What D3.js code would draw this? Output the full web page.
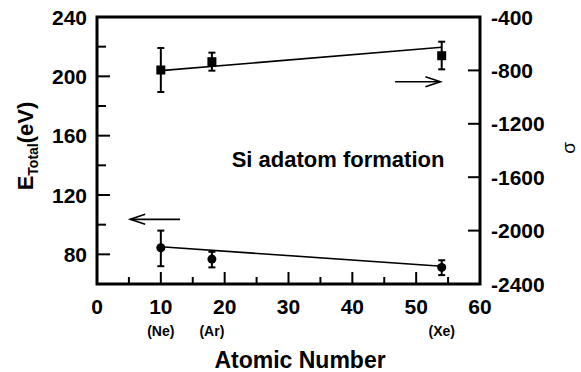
<!DOCTYPE html>
<html><head><meta charset="utf-8">
<script src="https://cdn.jsdelivr.net/npm/d3@7"></script>
<style>
html,body{margin:0;padding:0;background:#fff;}
svg{display:block;font-family:"Liberation Sans",Arial,Helvetica,sans-serif;font-weight:bold;}
</style></head>
<body><svg id="c" width="581" height="372"></svg>
<script>
// ---- data ----
const atomicNumber = [10, 18, 54];
const elementLabels = ["(Ne)", "(Ar)", "(Xe)"];
const eTotal   = [84.4, 76.8, 71.2];
const eErrLow  = [72, 71.2, 66];
const eErrHigh = [96, 81.7, 76];
const sigma     = [-797, -735, -690];
const sigErrLow = [-962, -802, -792];
const sigErrHigh= [-632, -667, -585];
const eFitX = [10, 54], eFitY = [85.1, 72];
const sigFitX = [10, 54], sigFitY = [-802, -627];
const xTicks = [0,5,10,15,20,25,30,35,40,45,50,55,60];
const xTickLabels = [0,10,20,30,40,50,60];
const leftTicks = [80,100,120,140,160,180,200,220,240];
const leftTickLabels = [80,120,160,200,240];
const rightTickLabels = [-2400,-2000,-1600,-1200,-800,-400];

// ---- layout ----
const svg = d3.select("#c");
const L = 97, R = 480, T = 17, B = 284;
const x = d3.scaleLinear().domain([0,60]).range([L,R]);
const yL = d3.scaleLinear().domain([60,240]).range([B,T]);
const yR = d3.scaleLinear().domain([-2400,-400]).range([B,T]);

// frame
svg.append("rect").attr("x",L).attr("y",T).attr("width",R-L).attr("height",B-T)
  .attr("fill","none").attr("stroke","#000").attr("stroke-width",3);

// x ticks (inward)
svg.selectAll(".xt").data(xTicks).join("line")
  .attr("x1",d=>x(d)).attr("x2",d=>x(d))
  .attr("y1",B).attr("y2",d=>B-(d%10===0?12:7))
  .attr("stroke","#000").attr("stroke-width",2);
svg.selectAll(".xl").data(xTickLabels).join("text")
  .attr("x",d=>x(d)).attr("y",314).attr("text-anchor","middle")
  .attr("font-size",21).text(d=>d);
svg.selectAll(".el").data(atomicNumber).join("text")
  .attr("x",d=>x(d)).attr("y",336).attr("text-anchor","middle")
  .attr("font-size",14).text((d,i)=>elementLabels[i]);
svg.append("text").attr("x",300).attr("y",368).attr("text-anchor","middle")
  .attr("font-size",23).text("Atomic Number");

// left ticks
svg.selectAll(".lt").data(leftTicks).join("line")
  .attr("x1",L).attr("x2",d=>L+(d%40===0?13:9))
  .attr("y1",d=>yL(d)).attr("y2",d=>yL(d))
  .attr("stroke","#000").attr("stroke-width",2);
svg.selectAll(".ll").data(leftTickLabels).join("text")
  .attr("x",87).attr("y",d=>yL(d)).attr("dy","0.36em").attr("text-anchor","end")
  .attr("font-size",21).text(d=>d);

// right ticks
svg.selectAll(".rt").data(rightTickLabels).join("line")
  .attr("x1",R).attr("x2",R-12)
  .attr("y1",d=>yR(d)).attr("y2",d=>yR(d))
  .attr("stroke","#000").attr("stroke-width",2);
svg.selectAll(".rl").data(rightTickLabels).join("text")
  .attr("x",491).attr("y",d=>yR(d)).attr("dy","0.36em").attr("text-anchor","start")
  .attr("font-size",21).text(d=>d);

// axis titles
const yt = svg.append("text").attr("transform","translate(33,146) rotate(-90)")
  .attr("text-anchor","middle").attr("font-size",22);
yt.append("tspan").text("E");
yt.append("tspan").attr("font-size",14).attr("dy",5).text("Total");
yt.append("tspan").attr("dy",-5).text("(eV)");
svg.append("text").attr("transform","translate(575,148) rotate(-90)")
  .attr("text-anchor","middle").attr("font-size",19).attr("font-weight","normal").text("σ");

// annotation
svg.append("text").attr("x",x(21.1)).attr("y",yL(138.8)).attr("font-size",22)
  .text("Si adatom formation");

// fit lines
svg.append("line").attr("x1",x(eFitX[0])).attr("y1",yL(eFitY[0]))
  .attr("x2",x(eFitX[1])).attr("y2",yL(eFitY[1])).attr("stroke","#000").attr("stroke-width",1.6);
svg.append("line").attr("x1",x(sigFitX[0])).attr("y1",yR(sigFitY[0]))
  .attr("x2",x(sigFitX[1])).attr("y2",yR(sigFitY[1])).attr("stroke","#000").attr("stroke-width",1.6);

// error bars + markers
function errbars(ys, lo, hi, sc){
  const g = svg.append("g").attr("stroke","#000").attr("stroke-width",2);
  atomicNumber.forEach((a,i)=>{
    g.append("line").attr("x1",x(a)).attr("x2",x(a)).attr("y1",sc(lo[i])).attr("y2",sc(hi[i]));
    [lo[i],hi[i]].forEach(v=>g.append("line").attr("x1",x(a)-3.5).attr("x2",x(a)+3.5)
      .attr("y1",sc(v)).attr("y2",sc(v)));
  });
}
errbars(eTotal,eErrLow,eErrHigh,yL);
errbars(sigma,sigErrLow,sigErrHigh,yR);
svg.selectAll(".ci").data(atomicNumber).join("circle")
  .attr("cx",d=>x(d)).attr("cy",(d,i)=>yL(eTotal[i])).attr("r",4.5).attr("fill","#000");
svg.selectAll(".sq").data(atomicNumber).join("rect")
  .attr("x",d=>x(d)-4.5).attr("y",(d,i)=>yR(sigma[i])-4.5).attr("width",9).attr("height",9).attr("fill","#000");

// arrows
function arrow(x1,x2,yv){
  const dir = Math.sign(x2-x1);
  const g = svg.append("g").attr("stroke","#000").attr("stroke-width",1.6).attr("fill","none");
  g.append("line").attr("x1",x1).attr("x2",x2).attr("y1",yv).attr("y2",yv);
  g.append("path").attr("d",`M${x2-dir*15},${yv-5}L${x2},${yv}L${x2-dir*15},${yv+5}`);
}
arrow(x(13), x(5.2), yL(103.6));
arrow(x(46.7), x(53.8), yR(-885));
</script></body></html>
